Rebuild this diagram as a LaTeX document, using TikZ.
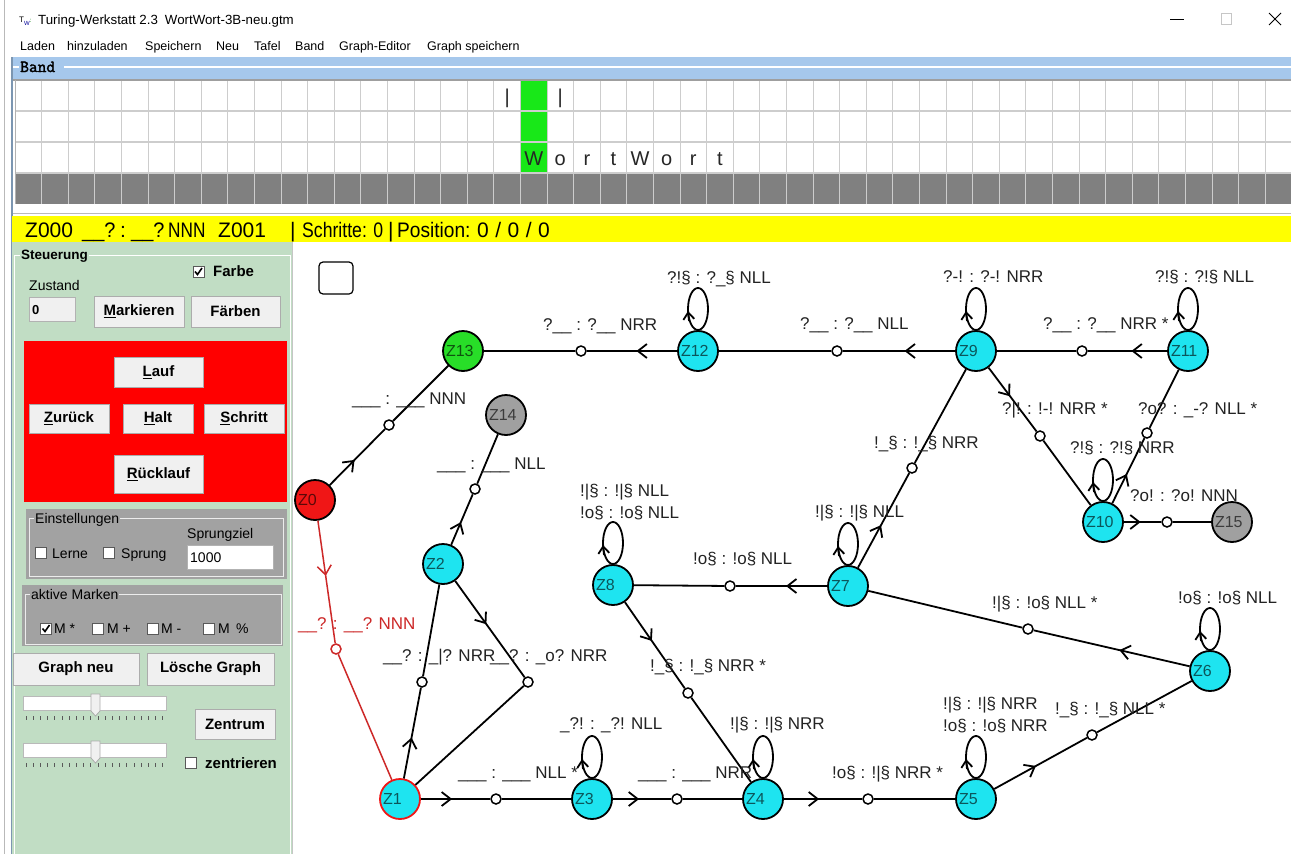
\documentclass[tikz,border=0pt]{standalone}
\usepackage{fontspec}
\setmainfont{Liberation Sans}
\newfontfamily\bandf{Latin Modern Mono}[FakeBold=2]
\usetikzlibrary{arrows.meta,decorations.markings,calc}

\definecolor{cyanN}{RGB}{30,228,240}
\definecolor{greenN}{RGB}{40,222,40}
\definecolor{redN}{RGB}{240,22,22}
\definecolor{grayN}{RGB}{160,160,160}
\definecolor{panelC}{RGB}{193,221,196}
\definecolor{boxG}{RGB}{162,162,162}
\definecolor{bandB}{RGB}{166,200,236}
\definecolor{tapeG}{RGB}{128,128,128}
\definecolor{gridC}{RGB}{205,205,205}
\definecolor{tapeGreen}{RGB}{24,232,24}
\definecolor{redE}{RGB}{205,40,40}
\definecolor{btnC}{RGB}{240,240,240}
\definecolor{lbl}{RGB}{35,35,35}
\definecolor{yellowS}{RGB}{255,255,0}
\definecolor{redBox}{RGB}{255,0,0}

\newcommand\fs[1]{\fontsize{#1}{#1}\selectfont}
\newcommand\sloop[1]{%
  \draw[edge] ($(#1.center)+(0,-42)$) ellipse [x radius=10pt, y radius=21pt];
  \draw[edge,-{Straight Barb[length=7pt,width=11pt]}] ($(#1.center)+(-9,-30)$) -- ($(#1.center)+(-10,-40)$);}

\begin{document}
\begin{tikzpicture}[x=1pt,y=-1pt,
  st/.style={circle,draw=black,line width=1.8pt,minimum size=40pt,inner sep=0pt,text width=34pt,align=left,font=\fs{16},text=black,text opacity=0.62},
  hd/.style={circle,draw=black,fill=white,line width=1.5pt,minimum size=10pt,inner sep=0pt},
  edge/.style={line width=1.8pt,draw=black},
  redge/.style={line width=1.5pt,draw=redE},
  marrow/.style={postaction={decorate},decoration={markings,mark=at position 0.45 with {\arrow{Straight Barb[length=9pt,width=14pt]}}}},
  lb/.style={anchor=base west,inner sep=0pt,font=\fs{17},text=lbl},
  btn/.style={draw=gray!65,fill=btnC,line width=0.8pt,inner sep=0pt,font=\fs{15}\bfseries},
  cbx/.style={draw=gray!70!black,fill=white,line width=0.8pt,minimum size=11pt,inner sep=0pt},
  chk/.style={line width=1.6pt,draw=black},
  ptxt/.style={anchor=base west,inner sep=0pt,font=\fs{14}},
  pbold/.style={anchor=base west,inner sep=0pt,font=\fs{15}\bfseries},
  mtxt/.style={anchor=base west,inner sep=0pt,font=\fs{12.5}},
  stxt/.style={anchor=base west,inner sep=0pt,font=\fs{21}},
  tape/.style={anchor=base,inner sep=0pt,font=\fs{20},text=black!85}
]
\useasboundingbox (0,0) rectangle (1291,854);
\fill[white] (0,0) rectangle (1291,854);

% ---------- window chrome ----------
\draw[gray!55, line width=1pt] (4,0) -- (4,854);
\draw[bandB!75!black, line width=1.2pt] (12,57) -- (12,854);
\node[anchor=base west,inner sep=0pt,font=\fs{8}] (icon) at (19,22) {T\raisebox{-3pt}{\textcolor{blue!60!black}{\fs{6}W}}\textcolor{green!50!black}{\fs{6}:}};
\node[anchor=base west,inner sep=0pt,font=\fs{13.3}] (title) at (38,24) {Turing-Werkstatt 2.3\hspace{7pt}WortWort-3B-neu.gtm};
\coordinate (minA) at (1170,19); \coordinate (minB) at (1184,19);
\draw[line width=1pt] (minA) -- (minB);
\draw[gray!45, line width=1pt] (1221,13) rectangle (1231,24);
\coordinate (xa) at (1269,13); \coordinate (xb) at (1281,25);
\coordinate (xc) at (1281,13); \coordinate (xd) at (1269,25);
\draw[line width=1pt] (xa) -- (xb) (xc) -- (xd);

\node[mtxt] (m1) at (20,50.5) {Laden};
\node[mtxt] (m2) at (67,50.5) {hinzuladen};
\node[mtxt] (m3) at (145,50.5) {Speichern};
\node[mtxt] (m4) at (216,50.5) {Neu};
\node[mtxt] (m5) at (254,50.5) {Tafel};
\node[mtxt] (m6) at (295,50.5) {Band};
\node[mtxt] (m7) at (339,50.5) {Graph-Editor};
\node[mtxt] (m8) at (427,50.5) {Graph speichern};

% ---------- band ----------
\fill[bandB] (13,57) rectangle (1291,80);
\draw[white, line width=1.2pt] (13,67) -- (19,67) (64,67) -- (1291,67);
\node[anchor=base west,inner sep=0pt,font=\bandf\fs{17}] (bandT) at (20,72) {Band};
\fill[white] (15,80) rectangle (1291,173);
\fill[tapeGreen] ({15+26.6*19},80) rectangle ({15+26.6*20},173);
\fill[tapeG] (15,173) rectangle (1291,204);
\foreach \k in {0,...,48} { \draw[gridC, line width=1pt] ({15+26.6*\k},80) -- ({15+26.6*\k},204); }
\draw[gridC, line width=1.5pt] (15,111) -- (1291,111) (15,142) -- (1291,142) (15,173) -- (1291,173);
\draw[gray!75, line width=1.2pt] (13,80) -- (1291,80);
\draw[gray!60, line width=1pt] (15,80) -- (15,204);
\node[tape] (bar1) at ({15+26.6*18+13.3},103) {|};
\node[tape] (bar2) at ({15+26.6*20+13.3},103) {|};
\foreach \c/\k in {W/19,o/20,r/21,t/22,W/23,o/24,r/25,t/26} { \node[tape] (tp\k) at ({15+26.6*\k+13.3},165) {\c}; }
\draw[gray!55, line width=1pt] (13,213) -- (1291,213);

% ---------- status bar ----------
\fill[yellowS] (12,215.5) rectangle (1291,242);
\node[stxt] (s1) at (25,237.5) {Z000};
\node[stxt] (s2) at (82,237.5) {\scalebox{0.95}[1]{\_\_?}};
\node[stxt] (s3) at (120,237.5) {:};
\node[stxt] (s4) at (131,237.5) {\scalebox{0.95}[1]{\_\_?}};
\node[stxt] (s5) at (168,237.5) {\scalebox{0.82}[1]{NNN}};
\node[stxt] (s6) at (218,237.5) {Z001};
\node[stxt] (s7) at (290,237.5) {|};
\node[stxt] (s8) at (302,237.5) {\scalebox{0.84}[1]{Schritte: 0}};
\node[stxt] (s9) at (388,237.5) {|};
\node[stxt] (s10) at (397,237.5) {\scalebox{0.91}[1]{Position:}};
\node[stxt] (s11) at (477,237.5) {0\hspace{6.5pt}/\hspace{6.5pt}0\hspace{6.5pt}/\hspace{6.5pt}0};

% ---------- left panel ----------
\fill[panelC] (12,242) rectangle (292,854);
\draw[gray!45, line width=1pt] (292,242) -- (292,854);
\draw[white, line width=1pt] (14,854) -- (14,255) -- (290,255) -- (290,854);
\node[anchor=base west,inner sep=1pt,fill=panelC,font=\fs{13.5}\bfseries] (tSteu) at (20,259.5) {Steuerung};
\node[cbx] (cbFarbe) at (198.5,271.5) {};
\draw[chk] ($(cbFarbe.center)+(-3.5,0)$) -- ++(2.5,3) -- ++(4.5,-6.5);
\node[pbold] (tFarbe) at (213,276.5) {Farbe};
\node[ptxt] (tZust) at (29,290) {Zustand};
\node[draw=gray!60,fill=btnC,line width=0.8pt,minimum width=46pt,minimum height=24pt,inner sep=0pt] (fZust) at (52,309) {};
\node[anchor=base west,inner sep=0pt,font=\fs{13}\bfseries] (tZ0) at (32,314) {0};
\node[btn,minimum width=90pt,minimum height=31pt] (bMark) at (139,311.5) {\underline{M}arkieren};
\node[btn,minimum width=89pt,minimum height=31pt] (bFaerb) at (235.5,311.5) {Färben};

\fill[redBox] (24,341) rectangle (287,502);
\node[btn,minimum width=89pt,minimum height=30pt] (bLauf) at (158.5,372) {\underline{L}auf};
\node[btn,minimum width=80pt,minimum height=29pt] (bZur) at (69,418.5) {\underline{Z}urück};
\node[btn,minimum width=70pt,minimum height=29pt] (bHalt) at (158,418.5) {\underline{H}alt};
\node[btn,minimum width=80pt,minimum height=29pt] (bSchr) at (244,418.5) {\underline{S}chritt};
\node[btn,minimum width=89pt,minimum height=38pt] (bRueck) at (158.5,474) {\underline{R}ücklauf};

\fill[boxG] (26,509) rectangle (287,579);
\draw[white!85!gray, line width=1pt] (29,518) rectangle (283,576);
\node[anchor=base west,inner sep=1pt,fill=boxG,font=\fs{14}] (tEinst) at (34,523) {Einstellungen};
\node[ptxt] (tSprz) at (187,538) {Sprungziel};
\node[cbx] (cbLerne) at (41,552.5) {};
\node[ptxt] (tLerne) at (52,558) {Lerne};
\node[cbx] (cbSprung) at (109,552.5) {};
\node[ptxt] (tSprung) at (121,558) {Sprung};
\node[draw=gray!60,fill=white,line width=0.8pt,minimum width=86pt,minimum height=24pt,inner sep=0pt] (fSpr) at (230,557) {};
\node[ptxt] (t1000) at (190,562) {1000};

\fill[boxG] (22,585) rectangle (283,646);
\draw[white!85!gray, line width=1pt] (25,594) rectangle (281,644);
\node[anchor=base west,inner sep=1pt,fill=boxG,font=\fs{14}] (tMark) at (30,599) {aktive Marken};
\node[cbx] (cbM1) at (46,628.5) {};
\draw[chk] ($(cbM1.center)+(-3.5,0)$) -- ++(2.5,3) -- ++(4.5,-6.5);
\node[ptxt] (tM1) at (54,633) {M *};
\node[cbx] (cbM2) at (98,628.5) {};
\node[ptxt] (tM2) at (107,633) {M +};
\node[cbx] (cbM3) at (153,628.5) {};
\node[ptxt] (tM3) at (161,633) {M -};
\node[cbx] (cbM4) at (209,628.5) {};
\node[ptxt] (tM4) at (218,633) {M \,\%};

\node[btn,minimum width=126pt,minimum height=32pt] (bGneu) at (76,669) {Graph neu};
\node[btn,minimum width=127pt,minimum height=32pt] (bLoesch) at (210.5,669) {Lösche Graph};

\node[draw=gray!55,fill=white,line width=0.8pt,minimum width=143pt,minimum height=14pt,inner sep=0pt] (sl1) at (94.5,703) {};
\filldraw[fill=btnC,draw=gray!65,line width=0.8pt] (91,694) -- (100,694) -- (100,711) -- (95.5,716) -- (91,711) -- cycle;
\foreach \i in {0,...,19} { \draw[gray!70!black, line width=0.8pt] ({26+7.2*\i},716) -- ({26+7.2*\i},719.5); }
\node[btn,minimum width=80pt,minimum height=30pt] (bZent) at (235,724) {Zentrum};
\node[draw=gray!55,fill=white,line width=0.8pt,minimum width=143pt,minimum height=14pt,inner sep=0pt] (sl2) at (94.5,750) {};
\filldraw[fill=btnC,draw=gray!65,line width=0.8pt] (91,741) -- (100,741) -- (100,758) -- (95.5,763) -- (91,758) -- cycle;
\foreach \i in {0,...,19} { \draw[gray!70!black, line width=0.8pt] ({26+7.2*\i},763) -- ({26+7.2*\i},766.5); }
\node[cbx] (cbZent) at (191,763) {};
\node[pbold] (tZent) at (205,768.5) {zentrieren};

% ---------- graph ----------
\draw[line width=1.2pt, rounded corners=4pt] (319,262) rectangle (353,294);

\node[st,fill=redN] (Z0) at (315,500) {Z0};
\node[st,fill=cyanN,draw=redN] (Z1) at (400,799) {Z1};
\node[st,fill=cyanN] (Z2) at (443,564) {Z2};
\node[st,fill=cyanN] (Z3) at (592,799) {Z3};
\node[st,fill=cyanN] (Z4) at (763,799) {Z4};
\node[st,fill=cyanN] (Z5) at (976,799) {Z5};
\node[st,fill=cyanN] (Z6) at (1210,671) {Z6};
\node[st,fill=cyanN] (Z7) at (848,586) {Z7};
\node[st,fill=cyanN] (Z8) at (613,585) {Z8};
\node[st,fill=cyanN] (Z9) at (976,351) {Z9};
\node[st,fill=cyanN] (Z10) at (1103,522) {Z10};
\node[st,fill=cyanN] (Z11) at (1188,351) {Z11};
\node[st,fill=cyanN] (Z12) at (698,351) {Z12};
\node[st,fill=greenN] (Z13) at (463,351) {Z13};
\node[st,fill=grayN] (Z14) at (506,415) {Z14};
\node[st,fill=grayN] (Z15) at (1232,522) {Z15};

\node[hd] (h0a) at (389,425) {};
\node[hd,draw=redE] (h0b) at (336,649) {};
\node[hd] (h12) at (422,682) {};
\node[hd] (h21) at (528,682) {};
\node[hd] (h214) at (475,489) {};
\node[hd] (h13) at (496,799) {};
\node[hd] (h34) at (677,799) {};
\node[hd] (h45) at (868,799) {};
\node[hd] (h56) at (1092,735) {};
\node[hd] (h67) at (1028,629) {};
\node[hd] (h78) at (730,586) {};
\node[hd] (h84) at (688,693) {};
\node[hd] (h79) at (912,468) {};
\node[hd] (h910) at (1040,436) {};
\node[hd] (h1011) at (1147,433) {};
\node[hd] (h1015) at (1167,522) {};
\node[hd] (h119) at (1082,351) {};
\node[hd] (h912) at (837,351) {};
\node[hd] (h1213) at (581,351) {};

\draw[edge,marrow] (Z0) -- (h0a); \draw[edge] (h0a) -- (Z13);
\draw[redge,marrow] (Z0) -- (h0b); \draw[redge] (h0b) -- (Z1);
\draw[edge,marrow] (Z1) -- (h12); \draw[edge] (h12) -- (Z2);
\draw[edge,marrow] (Z2) -- (h21); \draw[edge] (h21) -- (Z1);
\draw[edge,marrow] (Z2) -- (h214); \draw[edge] (h214) -- (Z14);
\draw[edge,marrow] (Z1) -- (h13); \draw[edge] (h13) -- (Z3);
\draw[edge,marrow] (Z3) -- (h34); \draw[edge] (h34) -- (Z4);
\draw[edge,marrow] (Z4) -- (h45); \draw[edge] (h45) -- (Z5);
\draw[edge,marrow] (Z5) -- (h56); \draw[edge] (h56) -- (Z6);
\draw[edge,marrow] (Z6) -- (h67); \draw[edge] (h67) -- (Z7);
\draw[edge,marrow] (Z7) -- (h78); \draw[edge] (h78) -- (Z8);
\draw[edge,marrow] (Z8) -- (h84); \draw[edge] (h84) -- (Z4);
\draw[edge,marrow] (Z7) -- (h79); \draw[edge] (h79) -- (Z9);
\draw[edge,marrow] (Z9) -- (h910); \draw[edge] (h910) -- (Z10);
\draw[edge,marrow] (Z10) -- (h1011); \draw[edge] (h1011) -- (Z11);
\draw[edge,marrow] (Z10) -- (h1015); \draw[edge] (h1015) -- (Z15);
\draw[edge,marrow] (Z11) -- (h119); \draw[edge] (h119) -- (Z9);
\draw[edge,marrow] (Z9) -- (h912); \draw[edge] (h912) -- (Z12);
\draw[edge,marrow] (Z12) -- (h1213); \draw[edge] (h1213) -- (Z13);

\sloop{Z12} \sloop{Z9} \sloop{Z11} \sloop{Z10} \sloop{Z8} \sloop{Z7} \sloop{Z6} \sloop{Z5} \sloop{Z4} \sloop{Z3}

% edge labels
\node[lb] (l01) at (352,404) {\_\_\_ : \_\_\_ NNN};
\node[lb,text=redE] (l02) at (298,629) {\_\_? : \_\_? NNN};
\node[lb] (l03) at (383,661) {\_\_? : \_|? NRR};
\node[lb] (l04) at (490,661) {\_\_? : \_o? NRR};
\node[lb] (l05) at (437,469) {\_\_\_ : \_\_\_ NLL};
\node[lb] (l06) at (458,778) {\_\_\_ : \_\_\_ NLL *};
\node[lb] (l07) at (638,778) {\_\_\_ : \_\_\_ NRR};
\node[lb] (l08) at (832,778) {!o§ : !|§ NRR *};
\node[lb] (l09) at (1055,714) {!\_§ : !\_§ NLL *};
\node[lb] (l10) at (992,608) {!|§ : !o§ NLL *};
\node[lb] (l11) at (693,564) {!o§ : !o§ NLL};
\node[lb] (l12) at (650,671) {!\_§ : !\_§ NRR *};
\node[lb] (l13) at (874,448) {!\_§ : !\_§ NRR};
\node[lb] (l14) at (1002,414) {?|! : !-! NRR *};
\node[lb] (l15) at (1138,414) {?o? : \_-? NLL *};
\node[lb] (l16) at (1130,501) {?o! : ?o! NNN};
\node[lb] (l17) at (1043,329) {?\_\_ : ?\_\_ NRR *};
\node[lb] (l18) at (800,329) {?\_\_ : ?\_\_ NLL};
\node[lb] (l19) at (543,330) {?\_\_ : ?\_\_ NRR};
% loop labels
\node[lb] (k12) at (667,283) {?!§ : ?\_§ NLL};
\node[lb] (k9) at (943,282) {?-! : ?-! NRR};
\node[lb] (k11) at (1155,282) {?!§ : ?!§ NLL};
\node[lb] (k10) at (1070,453) {?!§ : ?!§ NRR};
\node[lb] (k8a) at (580,496) {!|§ : !|§ NLL};
\node[lb] (k8b) at (580,518) {!o§ : !o§ NLL};
\node[lb] (k7) at (815,517) {!|§ : !|§ NLL};
\node[lb] (k6) at (1178,603) {!o§ : !o§ NLL};
\node[lb] (k5a) at (943,709) {!|§ : !|§ NRR};
\node[lb] (k5b) at (943,731) {!o§ : !o§ NRR};
\node[lb] (k4) at (730,729) {!|§ : !|§ NRR};
\node[lb] (k3) at (560,729) {\_?! : \_?! NLL};
\end{tikzpicture}
\end{document}
